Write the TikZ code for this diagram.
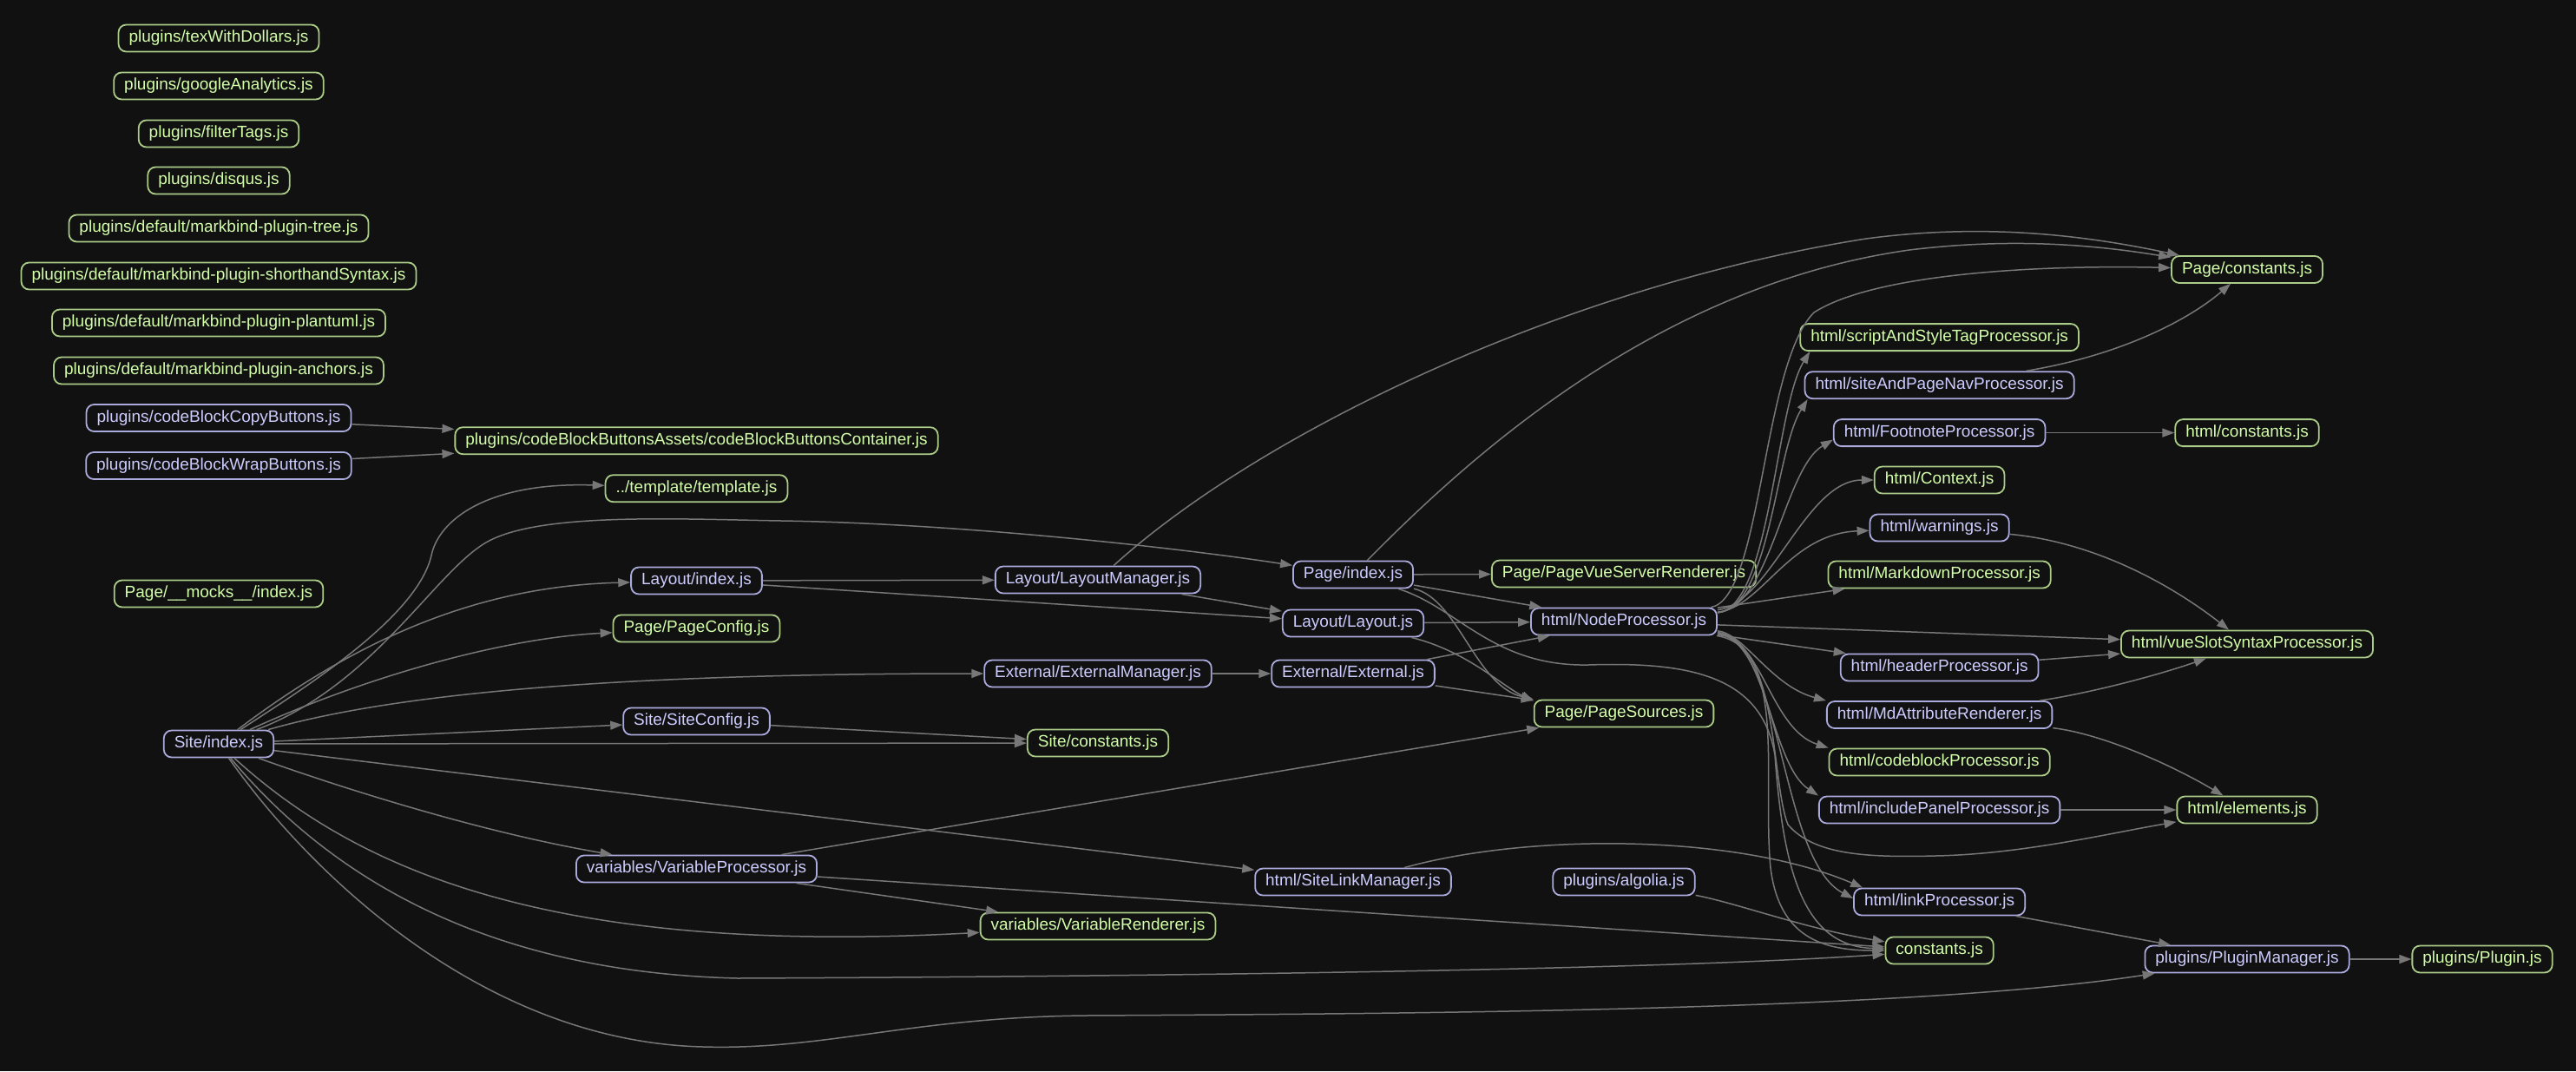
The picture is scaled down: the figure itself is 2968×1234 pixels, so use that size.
\documentclass[tikz,border=0pt]{standalone}
\usepackage{fontspec}
\setmainfont{Liberation Sans}
\usetikzlibrary{arrows.meta}

\definecolor{bgdark}{HTML}{111111}
\definecolor{modtext}{HTML}{CCCCFF}
\definecolor{modline}{HTML}{AAAADD}
\definecolor{leaftext}{HTML}{D4FFAA}
\definecolor{leafline}{HTML}{AACC88}
\definecolor{depgray}{HTML}{777777}

\tikzset{
  jsfile/.style={draw, rounded corners=9pt, line width=1.8pt, inner xsep=12pt, inner ysep=0pt,
    minimum height=31pt, font=\fontsize{19}{22}\selectfont},
  mod/.style={jsfile, draw=modline, text=modtext},
  leaf/.style={jsfile, draw=leafline, text=leaftext},
  dep/.style={depgray, line width=1.5pt, -{Triangle[length=14pt,width=10pt]}},
}

\begin{document}
\begin{tikzpicture}[x=1pt, y=-1pt]
\useasboundingbox (0,0) rectangle (2968,1234);
\fill[bgdark] (0,0) rectangle (2968,1234);

% plugins on their own
\node[leaf] (texd) at (252,44) {plugins/texWithDollars.js};
\node[leaf] (gan) at (252,99) {plugins/googleAnalytics.js};
\node[leaf] (ftag) at (252,154) {plugins/filterTags.js};
\node[leaf] (disq) at (252,208) {plugins/disqus.js};
\node[leaf] (ptree) at (252,263) {plugins/default/markbind-plugin-tree.js};
\node[leaf] (pshort) at (252,318) {plugins/default/markbind-plugin-shorthandSyntax.js};
\node[leaf] (puml) at (252,372) {plugins/default/markbind-plugin-plantuml.js};
\node[leaf] (panch) at (252,427) {plugins/default/markbind-plugin-anchors.js};
\node[mod] (cbcopy) at (252,481.5) {plugins/codeBlockCopyButtons.js};
\node[mod] (cbwrap) at (252,536.5) {plugins/codeBlockWrapButtons.js};
\node[leaf] (mocks) at (252,684) {Page/\_\_mocks\_\_/index.js};
\node[mod] (site) at (252,857) {Site/index.js};

% second rank
\node[leaf] (cbbc) at (802.5,507.7) {plugins/codeBlockButtonsAssets/codeBlockButtonsContainer.js};
\node[leaf] (tmpl) at (802.5,562.7) {../template/template.js};
\node[mod] (layidx) at (802.5,669) {Layout/index.js};
\node[leaf] (pcfg) at (802.5,724) {Page/PageConfig.js};
\node[mod] (scfg) at (802.5,831) {Site/SiteConfig.js};
\node[mod] (vproc) at (802.5,1001) {variables/VariableProcessor.js};

\node[mod] (lmgr) at (1265,668) {Layout/LayoutManager.js};
\node[mod] (extmgr) at (1265,776) {External/ExternalManager.js};
\node[leaf] (sconst) at (1265,856) {Site/constants.js};
\node[leaf] (vrend) at (1265,1067) {variables/VariableRenderer.js};

\node[mod] (pidx) at (1559,662) {Page/index.js};
\node[mod] (lay) at (1559,718) {Layout/Layout.js};
\node[mod] (ext) at (1559,776) {External/External.js};
\node[mod] (slm) at (1559,1016) {html/SiteLinkManager.js};

\node[leaf] (pvsr) at (1871,661) {Page/PageVueServerRenderer.js};
\node[mod] (nproc) at (1871,716) {html/NodeProcessor.js};
\node[leaf] (psrc) at (1871,822) {Page/PageSources.js};
\node[mod] (algolia) at (1871,1016) {plugins/algolia.js};

% html processors
\node[leaf] (sast) at (2234.6,388.6) {html/scriptAndStyleTagProcessor.js};
\node[mod] (sapn) at (2234.6,443.7) {html/siteAndPageNavProcessor.js};
\node[mod] (foot) at (2234.6,498.6) {html/FootnoteProcessor.js};
\node[leaf] (ctx) at (2234.6,553) {html/Context.js};
\node[mod] (warn) at (2234.6,608) {html/warnings.js};
\node[leaf] (md) at (2234.6,662) {html/MarkdownProcessor.js};
\node[mod] (hdr) at (2234.6,769) {html/headerProcessor.js};
\node[mod] (mdar) at (2234.6,823.5) {html/MdAttributeRenderer.js};
\node[leaf] (cblk) at (2234.6,878) {html/codeblockProcessor.js};
\node[mod] (incp) at (2234.6,933) {html/includePanelProcessor.js};
\node[mod] (link) at (2234.6,1039) {html/linkProcessor.js};
\node[leaf] (const) at (2234.6,1095) {constants.js};

\node[leaf] (pconst) at (2589,310.5) {Page/constants.js};
\node[leaf] (hconst) at (2589,498.6) {html/constants.js};
\node[leaf] (vslot) at (2589,742) {html/vueSlotSyntaxProcessor.js};
\node[leaf] (elem) at (2589,933) {html/elements.js};
\node[mod] (pmgr) at (2589,1105) {plugins/PluginManager.js};
\node[leaf] (plugin) at (2860,1105) {plugins/Plugin.js};

% code block buttons
\draw[dep] (cbcopy) -- (cbbc);
\draw[dep] (cbwrap) -- (cbbc);

% Site/index.js
\draw[dep] (site) .. controls (350,793) and (480,712) .. (497,640) .. controls (505,600) and (560,555) .. (tmpl);
\draw[dep] (site) .. controls (430,790) and (500,660) .. (560,625) .. controls (620,590) and (780,598) .. (900,600) .. controls (1100,603) and (1350,630) .. (pidx);
\draw[dep] (site) .. controls (420,730) and (560,675) .. (layidx);
\draw[dep] (site) .. controls (420,780) and (580,735) .. (pcfg);
\draw[dep] (site) .. controls (450,800) and (700,776) .. (extmgr);
\draw[dep] (site) -- (scfg);
\draw[dep] (site) -- (sconst);
\draw[dep] (site) -- (slm);
\draw[dep] (site) .. controls (400,910) and (560,960) .. (vproc);
\draw[dep] (site) .. controls (420,1010) and (650,1100) .. (vrend);
\draw[dep] (site) .. controls (380,1010) and (560,1120) .. (850,1127) .. controls (1300,1125) and (1900,1118) .. (const);
\draw[dep] (site) .. controls (360,1010) and (560,1200) .. (810,1206) .. controls (950,1210) and (1050,1172) .. (1250,1170) .. controls (1600,1168) and (2200,1165) .. (pmgr);

% layout, site config, variables
\draw[dep] (layidx) -- (lmgr);
\draw[dep] (layidx) -- (lay);
\draw[dep] (scfg) -- (sconst);
\draw[dep] (vproc) -- (psrc);
\draw[dep] (vproc) -- (vrend);
\draw[dep] (vproc) -- (const);
\draw[dep] (lmgr) -- (lay);
\draw[dep] (lmgr) .. controls (1450,500) and (1800,330) .. (2150,275) .. controls (2300,255) and (2420,275) .. (pconst);
\draw[dep] (extmgr) -- (ext);
\draw[dep] (lay) -- (nproc);
\draw[dep] (lay) .. controls (1690,750) and (1730,790) .. ([yshift=-2pt]psrc.north west);
\draw[dep] (ext) -- (nproc);
\draw[dep] (ext) -- (psrc);

% Page/index.js
\draw[dep] (pidx) .. controls (1680,540) and (1900,330) .. (2200,288) .. controls (2330,272) and (2430,285) .. (pconst);
\draw[dep] (pidx) -- (pvsr);
\draw[dep] (pidx) -- (nproc);
\draw[dep] (pidx) .. controls (1680,690) and (1700,790) .. (psrc.north west);
\draw[dep] (pidx) .. controls (1680,700) and (1720,768) .. (1830,766) .. controls (1950,762) and (2030,780) .. (2045,870) .. controls (2055,1010) and (2080,1090) .. (const);

% html/NodeProcessor.js
\draw[dep] (nproc) .. controls (2030,690) and (2030,420) .. (2090,360) .. controls (2160,315) and (2350,305) .. (pconst);
\draw[dep] (nproc) .. controls (2040,700) and (2045,470) .. ([xshift=12pt]sast.south west);
\draw[dep] (nproc) .. controls (2040,700) and (2045,520) .. ([xshift=4pt]sapn.south west);
\draw[dep] (nproc) .. controls (2040,700) and (2055,540) .. ([yshift=-8pt]foot.west);
\draw[dep] (nproc) .. controls (2040,695) and (2080,553) .. (ctx);
\draw[dep] (nproc) .. controls (2030,700) and (2060,615) .. (warn);
\draw[dep] (nproc) -- ([xshift=20pt]md.south west);
\draw[dep] (nproc) -- (vslot);
\draw[dep] (nproc) -- ([xshift=7pt]hdr.north west);
\draw[dep] (nproc) .. controls (2010,730) and (2040,790) .. (mdar.north west);
\draw[dep] (nproc) .. controls (2030,735) and (2040,840) .. (cblk.north west);
\draw[dep] (nproc) .. controls (2035,735) and (2040,880) .. (incp.north west);
\draw[dep] (nproc) .. controls (2050,740) and (2040,900) .. (2060,950) .. controls (2090,985) and (2150,988) .. (2230,986) .. controls (2330,984) and (2430,960) .. (elem);
\draw[dep] (nproc) .. controls (2055,740) and (2050,990) .. ([yshift=4pt]link.west);
\draw[dep] (nproc) .. controls (2060,745) and (2030,900) .. (2040,1000) .. controls (2050,1080) and (2100,1095) .. (const);

% html helpers
\draw[dep] (sapn) .. controls (2440,410) and (2520,370) .. (pconst);
\draw[dep] (foot) -- (hconst);
\draw[dep] (warn) .. controls (2420,625) and (2510,680) .. (vslot);
\draw[dep] (hdr) -- (vslot);
\draw[dep] (mdar) .. controls (2400,800) and (2480,780) .. (vslot);
\draw[dep] (mdar) .. controls (2420,845) and (2500,880) .. (elem);
\draw[dep] (incp) -- (elem);
\draw[dep] (slm) .. controls (1760,960) and (2000,960) .. ([xshift=11pt]link.north west);
\draw[dep] (algolia) .. controls (2000,1040) and (2080,1070) .. (const);
\draw[dep] (link) -- (pmgr);
\draw[dep] (pmgr) -- (plugin);
\end{tikzpicture}
\end{document}
